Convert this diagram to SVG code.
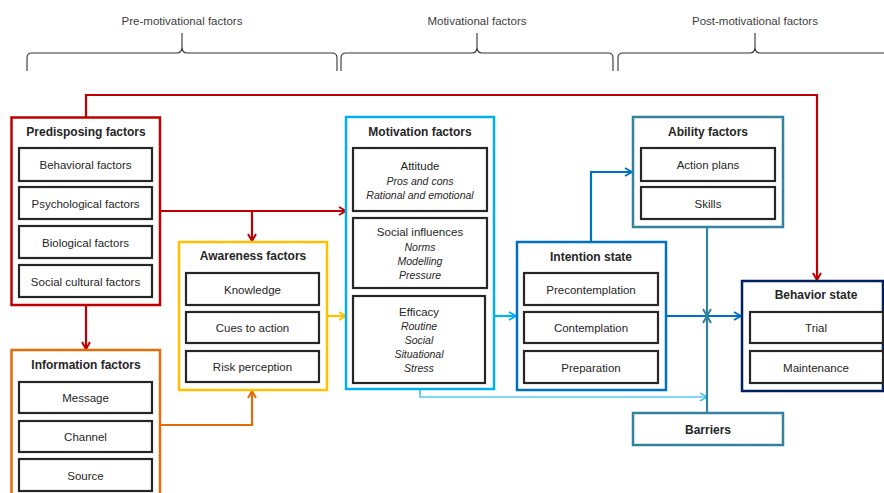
<svg xmlns="http://www.w3.org/2000/svg" width="884" height="493" viewBox="0 0 884 493">
<defs>
<style>
text{font-family:"Liberation Sans",Arial,sans-serif;fill:#262626;text-anchor:middle}
.t{font-size:12px;font-weight:bold}
.i{font-size:11.5px}
.it{font-size:10.5px;font-style:italic}
.h{font-size:11.5px;fill:#404040}
.in{fill:#fff;stroke:#262626;stroke-width:2.2}
.o{fill:#fff;stroke-width:2.5}
.c{fill:none;stroke-width:2.2}
.br{fill:none;stroke:#333;stroke-width:1.1}
</style>
<marker id="aR" viewBox="0 0 10 10" refX="9" refY="5" markerWidth="10" markerHeight="10" markerUnits="userSpaceOnUse" orient="auto"><path d="M2,1 L9,5 L2,9" fill="none" stroke="#c00000" stroke-width="2"/></marker>
<marker id="aO" viewBox="0 0 10 10" refX="9" refY="5" markerWidth="10" markerHeight="10" markerUnits="userSpaceOnUse" orient="auto"><path d="M2,1 L9,5 L2,9" fill="none" stroke="#e36c0a" stroke-width="2"/></marker>
<marker id="aY" viewBox="0 0 10 10" refX="9" refY="5" markerWidth="10" markerHeight="10" markerUnits="userSpaceOnUse" orient="auto"><path d="M2,1 L9,5 L2,9" fill="none" stroke="#ffc000" stroke-width="2"/></marker>
<marker id="aL" viewBox="0 0 10 10" refX="9" refY="5" markerWidth="10" markerHeight="10" markerUnits="userSpaceOnUse" orient="auto"><path d="M2,1 L9,5 L2,9" fill="none" stroke="#00b0f0" stroke-width="2"/></marker>
<marker id="aLt" viewBox="0 0 10 10" refX="9" refY="5" markerWidth="10" markerHeight="10" markerUnits="userSpaceOnUse" orient="auto"><path d="M2,1 L9,5 L2,9" fill="none" stroke="#00b0f0" stroke-width="1.2"/></marker>
<marker id="aB" viewBox="0 0 10 10" refX="9" refY="5" markerWidth="10" markerHeight="10" markerUnits="userSpaceOnUse" orient="auto"><path d="M2,1 L9,5 L2,9" fill="none" stroke="#0070c0" stroke-width="2"/></marker>
<marker id="aT" viewBox="0 0 10 10" refX="9" refY="5" markerWidth="10" markerHeight="10" markerUnits="userSpaceOnUse" orient="auto"><path d="M2,1 L9,5 L2,9" fill="none" stroke="#31849b" stroke-width="2"/></marker>
</defs>
<rect width="884" height="493" fill="#fff"/>

<g id="braces">
<path class="br" d="M27,71 V58 Q27,53 32,53 H177 Q182,53 182,47 V33 M182,47 Q182,53 187,53 H332 Q337,53 337,58 V71"/>
<path class="br" d="M341,71 V58 Q341,53 346,53 H472 Q477,53 477,47 V33 M477,47 Q477,53 482,53 H608 Q613,53 613,58 V71"/>
<path class="br" d="M618,71 V58 Q618,53 623,53 H750 Q755,53 755,47 V33 M755,47 Q755,53 760,53 H884"/>
<text class="h" x="182" y="25">Pre-motivational factors</text>
<text class="h" x="477" y="25">Motivational factors</text>
<text class="h" x="755" y="25">Post-motivational factors</text>
</g>

<g id="connectors">
<path class="c" stroke="#c00000" d="M86,117 V95 H817 V280" marker-end="url(#aR)"/>
<path class="c" stroke="#c00000" d="M160,211 H346" marker-end="url(#aR)"/>
<path class="c" stroke="#c00000" d="M252,211 V241" marker-end="url(#aR)"/>
<path class="c" stroke="#c00000" d="M86,305 V349" marker-end="url(#aR)"/>
<path class="c" stroke="#e36c0a" d="M160,425 H252 V391" marker-end="url(#aO)"/>
<path class="c" stroke="#ffc000" d="M327,316 H346" marker-end="url(#aY)"/>
<path class="c" stroke="#00b0f0" d="M494,316 H516" marker-end="url(#aL)"/>
<path fill="none" stroke="#00b0f0" stroke-width="1.2" d="M420,389 V397 H707" marker-end="url(#aLt)"/>
<path class="c" stroke="#0070c0" d="M591,242 V172 H632" marker-end="url(#aB)"/>
<path class="c" stroke="#0070c0" d="M666,316 H741" marker-end="url(#aB)"/>
<path class="c" stroke="#31849b" d="M707,227 V316" marker-end="url(#aT)"/>
<path class="c" stroke="#31849b" d="M707,413 V316" marker-end="url(#aT)"/>
</g>

<g id="predisposing">
<rect class="o" stroke="#c00000" x="11.5" y="117.5" width="148.5" height="187.5"/>
<text class="t" x="86" y="136">Predisposing factors</text>
<rect class="in" x="19" y="148" width="133" height="33"/><text class="i" x="85.5" y="169">Behavioral factors</text>
<rect class="in" x="19" y="187" width="133" height="32"/><text class="i" x="85.5" y="207.5">Psychological factors</text>
<rect class="in" x="19" y="226" width="133" height="32"/><text class="i" x="85.5" y="246.5">Biological factors</text>
<rect class="in" x="19" y="265" width="133" height="32"/><text class="i" x="85.5" y="285.5">Social cultural factors</text>
</g>

<g id="information">
<rect class="o" stroke="#e36c0a" x="11.5" y="350" width="148.5" height="150"/>
<text class="t" x="86" y="369">Information factors</text>
<rect class="in" x="19" y="382" width="133" height="31"/><text class="i" x="85.5" y="402">Message</text>
<rect class="in" x="19" y="421" width="133" height="31"/><text class="i" x="85.5" y="441">Channel</text>
<rect class="in" x="19" y="459" width="133" height="32"/><text class="i" x="85.5" y="479.5">Source</text>
</g>

<g id="awareness">
<rect class="o" stroke="#ffc000" x="179" y="242" width="148" height="148"/>
<text class="t" x="253" y="260">Awareness factors</text>
<rect class="in" x="186" y="273" width="133" height="32"/><text class="i" x="252.5" y="293.5">Knowledge</text>
<rect class="in" x="186" y="312" width="133" height="31"/><text class="i" x="252.5" y="332">Cues to action</text>
<rect class="in" x="186" y="351" width="133" height="31"/><text class="i" x="252.5" y="371">Risk perception</text>
</g>

<g id="motivation">
<rect class="o" stroke="#00b0f0" x="346" y="117" width="148" height="272"/>
<text class="t" x="420" y="136">Motivation factors</text>
<rect class="in" x="353" y="148" width="134" height="63"/>
<text class="i" x="420" y="170">Attitude</text>
<text class="it" x="420" y="185">Pros and cons</text>
<text class="it" x="420" y="199">Rational and emotional</text>
<rect class="in" x="353" y="218" width="134" height="70"/>
<text class="i" x="420" y="236">Social influences</text>
<text class="it" x="420" y="251">Norms</text>
<text class="it" x="420" y="265">Modelling</text>
<text class="it" x="420" y="279">Pressure</text>
<rect class="in" x="353" y="296" width="132" height="87"/>
<text class="i" x="419" y="316">Efficacy</text>
<text class="it" x="419" y="330">Routine</text>
<text class="it" x="419" y="344">Social</text>
<text class="it" x="419" y="358">Situational</text>
<text class="it" x="419" y="372">Stress</text>
</g>

<g id="intention">
<rect class="o" stroke="#0070c0" x="517" y="242" width="149" height="148"/>
<text class="t" x="591" y="261">Intention state</text>
<rect class="in" x="524" y="273" width="134" height="32"/><text class="i" x="591" y="293.5">Precontemplation</text>
<rect class="in" x="524" y="312" width="134" height="31"/><text class="i" x="591" y="332">Contemplation</text>
<rect class="in" x="524" y="351" width="134" height="32"/><text class="i" x="591" y="371.5">Preparation</text>
</g>

<g id="ability">
<rect class="o" stroke="#31849b" x="633" y="117" width="150" height="110"/>
<text class="t" x="708" y="136">Ability factors</text>
<rect class="in" x="641" y="148" width="134" height="33"/><text class="i" x="708" y="169">Action plans</text>
<rect class="in" x="641" y="187" width="134" height="32"/><text class="i" x="708" y="207.5">Skills</text>
</g>

<g id="behavior">
<rect class="o" stroke="#002060" x="742" y="281" width="141" height="110"/>
<text class="t" x="816" y="299">Behavior state</text>
<rect class="in" x="750" y="312" width="133" height="31"/><text class="i" x="816" y="332">Trial</text>
<rect class="in" x="750" y="351" width="133" height="32"/><text class="i" x="816" y="371.5">Maintenance</text>
</g>

<g id="barriers">
<rect class="o" stroke="#31849b" x="633" y="413" width="150" height="32"/>
<text class="t" x="708" y="434">Barriers</text>
</g>
</svg>
